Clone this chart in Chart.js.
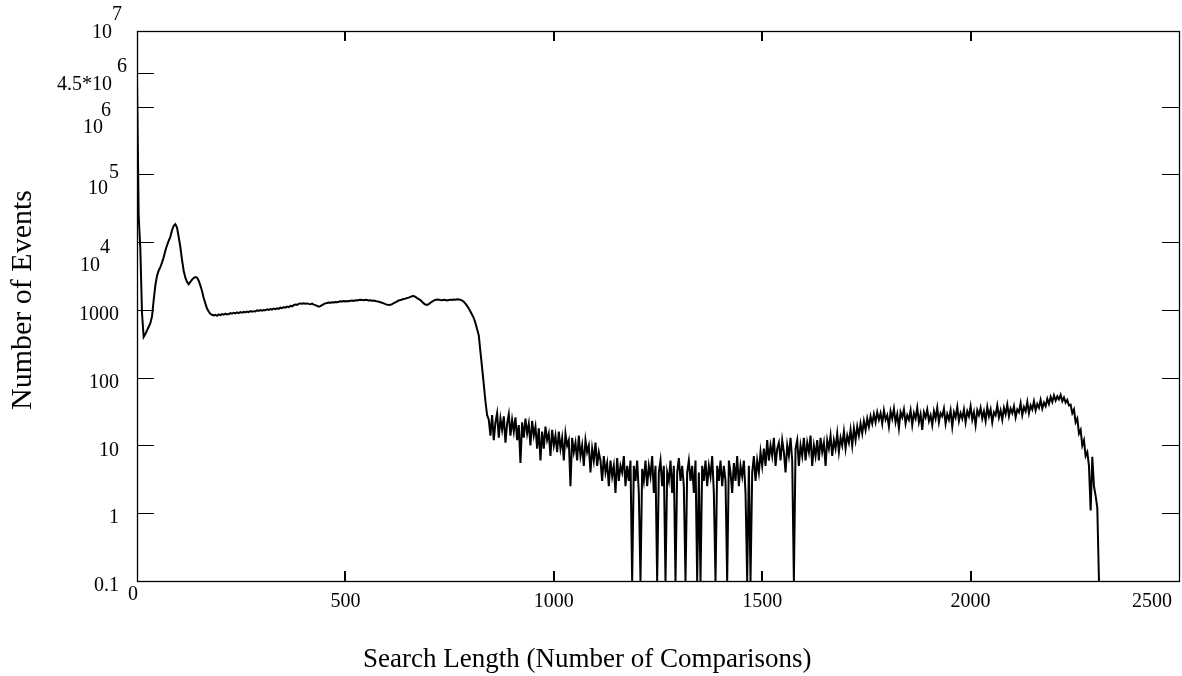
<!DOCTYPE html>
<html>
<head>
<meta charset="utf-8">
<script src="https://cdn.jsdelivr.net/npm/chart.js@4.4.1/dist/chart.umd.min.js"></script>
<style>
  html, body { margin: 0; padding: 0; background: #fff; }
  canvas { display: block; }
</style>
</head>
<body>
<canvas id="chart" width="1182" height="676"></canvas>
<script>
// histogram of search lengths, one value per bin of 4 comparisons
const BIN_WIDTH = 4;

// bins 0..840: start-up spike, the two humps and the plateau near 1000
const headEvents = [
  2750000, 25000, 8000, 900, 400, 440, 500, 560, 640, 800,
  1400, 2300, 3200, 3800, 4300, 5000, 6000, 7500, 9000, 10500,
  12000, 15000, 17500, 18500, 16500, 12000, 8500, 5500, 3800, 3000,
  2600, 2400, 2600, 2800, 2950, 3050, 3000, 2700, 2300, 1900,
  1500, 1250, 1050, 950, 880, 850, 830, 850, 820, 860,
  840, 870, 850, 880, 860, 870, 900, 880, 910, 890,
  920, 900, 930, 910, 940, 920, 950, 930, 960, 940,
  960, 950, 990, 970, 1000, 980, 1000, 990, 1020, 1000,
  1030, 1010, 1050, 1030, 1060, 1040, 1080, 1060, 1100, 1080,
  1120, 1100, 1150, 1130, 1180, 1200, 1190, 1230, 1250, 1240,
  1260, 1240, 1250, 1230, 1220, 1240, 1200, 1180, 1150, 1120,
  1140, 1180, 1220, 1250, 1270, 1290, 1280, 1300, 1290, 1310,
  1300, 1320, 1340, 1330, 1350, 1340, 1360, 1350, 1370, 1380,
  1360, 1390, 1380, 1400, 1410, 1400, 1390, 1410, 1400, 1380,
  1390, 1370, 1380, 1360, 1340, 1320, 1300, 1280, 1250, 1220,
  1200, 1180, 1190, 1220, 1260, 1300, 1340, 1380, 1400, 1430,
  1450, 1470, 1500, 1520, 1560, 1600, 1610, 1560, 1500, 1450,
  1400, 1320, 1250, 1200, 1190, 1220, 1280, 1330, 1370, 1410,
  1430, 1420, 1400, 1390, 1410, 1400, 1380, 1400, 1420, 1410,
  1430, 1420, 1440, 1430, 1420, 1380, 1320, 1240, 1150, 1050,
  950, 850, 760, 640, 520, 420, 240, 140, 80, 45,
  28
];

// bins 844..1108: noisy shelf after the cliff
const shelfEvents = [
  24, 14, 28, 12, 22, 30, 13, 25, 17, 27,
  11, 21, 29, 14, 24, 16, 26, 12, 20, 5.5,
  22, 13, 25, 15, 21, 10, 23, 14, 19, 9,
  18, 6, 16, 9, 19, 12, 15, 7, 17, 10,
  14, 8, 16, 9, 13, 6, 15, 10, 12, 2.5,
  13, 8, 11, 6, 14, 7, 10, 5, 12, 8,
  10, 4, 9, 6, 11, 5, 8
];

// bins 1112..1500: the trough; empty bins sit on the 0.1 floor
const troughEvents = [
  6, 3, 7, 4, 5.5, 2.5, 6, 3.5, 5, 2,
  6.5, 3, 5, 4, 7, 2.5, 5, 3, 6, 0.1,
  5, 3, 6, 2, 0.1, 4.5, 3, 6, 2.5, 5,
  3.5, 7, 2, 5, 0.1, 4, 6, 2.5, 5, 0.1,
  4, 3, 6, 2, 5, 0.1, 4, 6.5, 3, 5,
  2.5, 0.1, 4, 6, 3, 5, 2, 6, 0.1, 4,
  0.1, 5, 3, 6, 2.5, 5, 3.5, 7, 2, 0.1,
  5, 3, 6, 2.5, 5, 3, 0.1, 6, 4, 2,
  5.5, 3, 7, 2.5, 5, 3.5, 6, 2, 0.1, 5,
  0.1, 4, 7, 3, 6, 4, 8, 5
];

// bins 1504..1780: slow recovery
const riseEvents = [
  9, 5, 12, 6, 10, 7, 13, 5, 9, 11,
  6, 12, 8, 4, 10, 7, 13, 6, 0.1, 9,
  12, 5, 10, 7, 13, 6, 11, 8, 14, 5,
  10, 7, 12, 6, 13, 8, 11, 5, 12, 9,
  14, 7, 12, 9, 15, 8, 13, 10, 16, 9,
  14, 11, 17, 10,
  18, 12, 19, 14, 21, 15, 23, 17, 25, 19,
  27, 21, 29, 22, 31, 24
];

// bins 1784..2240: second plateau
const plateauEvents = [
  30, 21, 33, 24, 28, 19, 32, 25, 35, 22,
  29, 18, 31, 26, 34, 21, 28, 24, 33, 20,
  30, 25, 36, 22, 29, 17, 31, 26, 34, 23,
  28, 20, 32, 25, 36, 22, 30, 27, 35, 21,
  29, 24, 33, 19, 31, 26, 37, 23, 30, 25,
  34, 22, 32, 27, 38, 24, 31, 20, 33, 28,
  36, 25, 32, 23, 37, 27, 34, 22, 31, 28,
  39, 26, 33, 24, 36, 29, 40, 27, 35, 30,
  38, 26, 34, 31, 42, 28, 37, 32, 44, 30,
  39, 34, 45, 33, 41, 36, 47, 35, 43, 38,
  49,
  41, 52, 44, 55, 46, 53, 48, 56, 45, 51,
  43, 47, 39, 40
];

// bins 2244..2308: fall-off to nothing
const tailEvents = [
  30, 34, 22, 25, 15, 17, 10, 12, 7, 8,
  5, 1.1, 6.8, 2.5, 1.8, 1.2, 0.1
];

const events = [].concat(headEvents, shelfEvents, troughEvents, riseEvents, plateauEvents, tailEvents);

const X_TICKS = [0, 500, 1000, 1500, 2000, 2500];
const Y_TICKS = [0.1, 1, 10, 100, 1000, 1e4, 1e5, 1e6];
// labels of the left axis: base text and optional exponent
const Y_LABEL_VALUES = [0.1, 1, 10, 100, 1000, 1e4, 1e5, 1e6, 3.1e6, 1e7];
const Y_LABEL_BASES = ['0.1', '1', '10', '100', '1000', '10', '10', '10', '4.5*10', '10'];
const Y_LABEL_EXPS = ['', '', '', '', '', '4', '5', '6', '6', '7'];
const PEAK_TICK = 3.1e6;

const X_TITLE = 'Search Length (Number of Comparisons)';
const Y_TITLE = 'Number of Events';

const FONT = '"Liberation Serif", "Times New Roman", serif';

// hand placement of the exponent labels, as in the original figure
const expLayout = {
  '10000':   { baseX: 80, baseDy: 24, supX: 100, supDy: 6 },
  '100000':  { baseX: 88, baseDy: 14, supX: 109, supDy: -2 },
  '1000000': { baseX: 83, baseDy: 21, supX: 101, supDy: 4 },
  '3100000': { baseX: 57, baseDy: 11, supX: 117, supDy: -7 },
  '10000000':{ baseX: 92, baseDy: -6, supX: 112, supDy: -24 }
};

const frame = {
  id: 'frame',
  afterDatasetsDraw(chart) {
    const { ctx, chartArea: a, scales: { x, y } } = chart;
    ctx.save();
    ctx.strokeStyle = '#000';
    ctx.fillStyle = '#000';

    ctx.lineWidth = 1.3;
    ctx.strokeRect(a.left + 0.5, a.top + 0.5, a.right - a.left, a.bottom - a.top);

    // y ticks, inward on both sides
    ctx.lineWidth = 1;
    ctx.beginPath();
    Y_TICKS.concat([PEAK_TICK]).forEach(v => {
      const py = Math.round(y.getPixelForValue(v)) + 0.5;
      ctx.moveTo(a.left, py);
      ctx.lineTo(a.left + 17, py);
      if (v !== PEAK_TICK) {
        ctx.moveTo(a.right - 17, py);
        ctx.lineTo(a.right, py);
      }
    });
    ctx.stroke();

    // x ticks, inward top and bottom
    ctx.lineWidth = 2;
    ctx.beginPath();
    X_TICKS.slice(1, -1).forEach(v => {
      const px = Math.round(x.getPixelForValue(v));
      ctx.moveTo(px, a.top);
      ctx.lineTo(px, a.top + 10);
      ctx.moveTo(px, a.bottom);
      ctx.lineTo(px, a.bottom - 10);
    });
    ctx.stroke();

    ctx.font = '20px ' + FONT;
    ctx.textBaseline = 'middle';

    // x tick labels
    ctx.textAlign = 'center';
    X_TICKS.forEach(v => {
      let px = x.getPixelForValue(v);
      let py = a.bottom + 21;
      if (v === 0) { px -= 4; py -= 7; }
      if (v === 2500) px -= 27;
      ctx.fillText(String(v), px, py);
    });

    // y tick labels
    Y_LABEL_VALUES.forEach((v, i) => {
      const py = y.getPixelForValue(v);
      const exp = Y_LABEL_EXPS[i];
      if (!exp) {
        ctx.textAlign = 'right';
        ctx.fillText(Y_LABEL_BASES[i], 119, py + 5);
        return;
      }
      const L = expLayout[String(v)];
      ctx.textAlign = 'left';
      ctx.fillText(Y_LABEL_BASES[i], L.baseX, py + L.baseDy);
      ctx.fillText(exp, L.supX, py + L.supDy);
    });

    // axis titles
    ctx.font = '27px ' + FONT;
    ctx.textAlign = 'left';
    ctx.fillText(X_TITLE, 363, 660);
    ctx.font = '30px ' + FONT;
    ctx.save();
    ctx.translate(23, 300);
    ctx.rotate(-Math.PI / 2);
    ctx.textAlign = 'center';
    ctx.fillText(Y_TITLE, 0, 0);
    ctx.restore();

    ctx.restore();
  }
};

new Chart(document.getElementById('chart'), {
  type: 'line',
  data: {
    datasets: [{
      data: events.map((v, i) => ({ x: i * BIN_WIDTH, y: v })),
      borderColor: '#000',
      borderWidth: 2,
      pointRadius: 0,
      fill: false,
      tension: 0
    }]
  },
  options: {
    responsive: false,
    animation: false,
    devicePixelRatio: 1,
    layout: { padding: { left: 137, top: 31, right: 3, bottom: 95 } },
    plugins: { legend: { display: false }, tooltip: { enabled: false } },
    scales: {
      x: { type: 'linear', display: false, min: 0, max: 2500 },
      y: { type: 'logarithmic', display: false, min: 0.1, max: 1.31e7 }
    }
  },
  plugins: [frame]
});
</script>
</body>
</html>
